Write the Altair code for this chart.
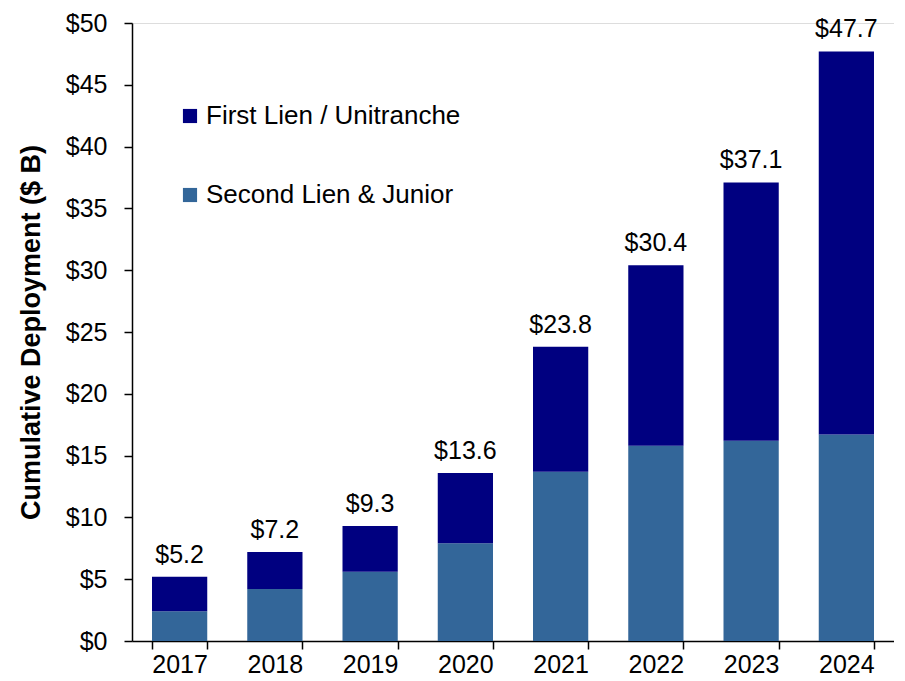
import altair as alt
import pandas as pd

years = ["2017", "2018", "2019", "2020", "2021", "2022", "2023", "2024"]
totals = [5.2, 7.2, 9.3, 13.6, 23.8, 30.4, 37.1, 47.7]
second_lien = [2.4, 4.2, 5.6, 7.9, 13.7, 15.8, 16.2, 16.7]
series_names = ["First Lien / Unitranche", "Second Lien & Junior"]
series_colors = ["#000080", "#336699"]

rows = []
for y, t, s in zip(years, totals, second_lien):
    rows.append({"year": y, "series": series_names[1], "value": s, "ord": 0})
    rows.append({"year": y, "series": series_names[0], "value": round(t - s, 2), "ord": 1})
df = pd.DataFrame(rows)
tot_df = pd.DataFrame({"year": years, "total": totals})

FONT = "Liberation Sans"
FS = 25

x_enc = alt.X(
    "year:N",
    sort=years,
    scale=alt.Scale(paddingInner=0.42, paddingOuter=0.21),
    axis=alt.Axis(
        title=None, labelAngle=0, tickBand="extent", tickSize=8,
        labelPadding=3, labelFontSize=FS, labelFont=FONT, labelColor="#000",
        domainColor="#000", tickColor="#000", domainWidth=1.5, tickWidth=1.5,
    ),
)

bars = alt.Chart(df).mark_bar().encode(
    x=x_enc,
    y=alt.Y(
        "value:Q", stack="zero",
        scale=alt.Scale(domain=[0, 50], nice=False),
        axis=alt.Axis(
            title="Cumulative Deployment ($ B)", values=list(range(0, 55, 5)),
            format="$.0f", grid=False, tickSize=8, labelPadding=17,
            labelFontSize=FS, labelFont=FONT, labelColor="#000",
            titleFont=FONT, titleFontSize=27, titleFontWeight="bold",
            titleColor="#000", titlePadding=20,
            domainColor="#000", tickColor="#000", domainWidth=1.5, tickWidth=1.5,
        ),
    ),
    color=alt.Color(
        "series:N",
        scale=alt.Scale(domain=series_names, range=series_colors),
        legend=alt.Legend(
            title=None, orient="none", legendX=45, legendY=80,
            symbolType="square", symbolSize=200, symbolStrokeWidth=0,
            labelFont=FONT, labelFontSize=26, labelColor="#000", labelLimit=0,
            rowPadding=53, labelOffset=3, padding=0,
        ),
    ),
    order=alt.Order("ord:Q", sort="ascending"),
)

labels = alt.Chart(tot_df).mark_text(
    baseline="bottom", dy=-9, font=FONT, fontSize=FS, color="#000"
).encode(
    x=alt.X("year:N", sort=years),
    y=alt.Y("total:Q"),
    text=alt.Text("total:Q", format="$.1f"),
)

chart = (
    alt.layer(bars, labels)
    .properties(
        width=762, height=618,
        padding={"left": 9, "top": 3, "right": 0, "bottom": 5},
    )
    .configure_view(stroke=None)
    .configure(background="white")
)

chart.save("out.html", embed_options={"renderer": "svg", "actions": False})
